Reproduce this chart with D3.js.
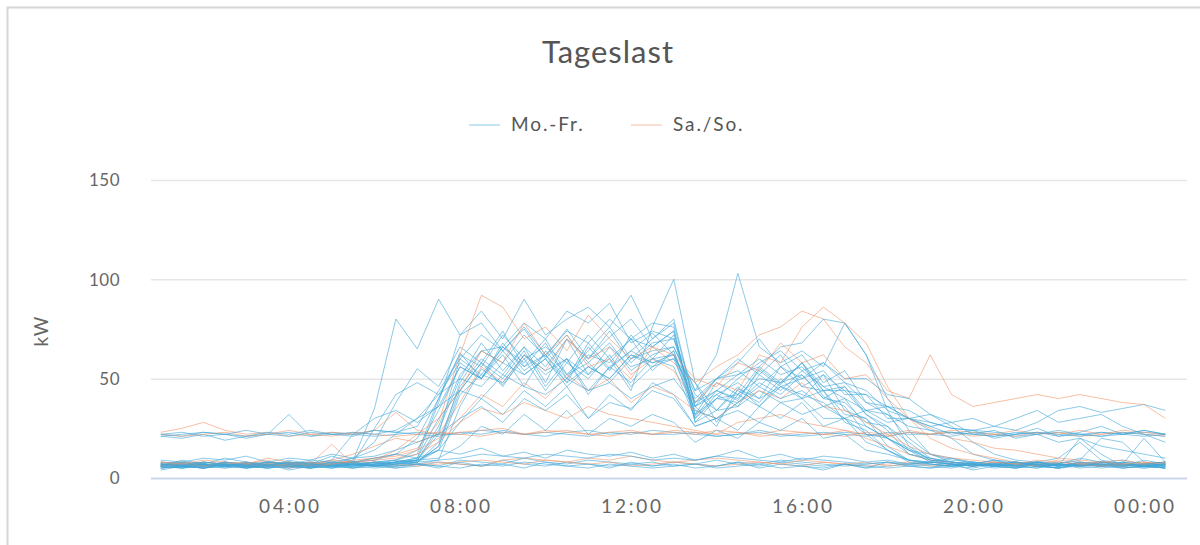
<!DOCTYPE html>
<html>
<head>
<meta charset="utf-8">
<script src="https://cdn.jsdelivr.net/npm/d3@7"></script>
<style>
  html, body { margin: 0; padding: 0; background: #fff; }
  svg text { font-family: Lato, "Open Sans", sans-serif; }
</style>
</head>
<body>
<div id="chart"></div>
<script>
// half-hour steps from 01:00 to 00:30 (next day), in hours
const times = d3.range(48).map(i => 1 + i * 0.5);
const xTicks = [4, 8, 12, 16, 20, 24];
const yTicks = [0, 50, 100, 150];
const seriesNames = ["Mo.-Fr.", "Sa./So."];

// Mo.-Fr. daily load curves, kW
const weekday = [
  [6,7,5,6,8,6,5,7,6,6,7,5, 6,8,7,6,9,7,6,8,7,6,7,8, 6,7,9,7,6,8,7,6,7,5,6,7, 6,5,7,6,8,6,5,7,6,8,6,7],
  [7,5,6,8,6,7,6,5,7,8,6,6, 7,6,9,8,7,10,8,7,9,8,7,6, 8,7,6,8,7,9,8,7,6,7,8,6, 7,6,5,7,6,5,7,6,5,6,7,5],
  [22,21,23,22,20,22,23,21,22,22,24,23, 22,21,23,22,24,22,23,22,21,23,22,24, 23,22,21,22,23,21,22,23,22,21,23,22, 22,21,23,22,21,22,23,22,21,22,23,22],
  [21,20,22,19,21,22,32,21,23,22,21,22, 23,22,22,24,23,22,21,23,24,22,23,22, 22,23,21,22,24,22,21,22,23,22,21,23, 22,23,22,21,22,23,21,22,23,22,21,22],
  [6,7,6,5,7,6,7,6,5,7,8,7, 9,26,52,64,58,72,61,75,60,71,80,66, 74,31,44,39,55,47,58,41,36,22,14,8, 7,6,7,6,5,7,6,8,6,7,6,5],
  [5,6,7,6,6,8,6,5,7,6,7,9, 12,40,63,50,66,58,70,52,64,76,60,70, 78,36,26,45,40,56,46,52,34,30,16,9, 8,7,6,7,8,6,5,7,6,6,7,6],
  [7,6,8,7,6,5,7,8,6,9,35,80, 65,90,72,78,64,75,60,72,58,68,54,62, 66,44,50,60,52,62,46,44,32,30,20,15, 9,8,7,6,7,8,6,7,6,5,6,7],
  [6,8,7,6,7,6,8,7,7,10,18,38, 55,46,66,58,74,56,62,50,68,55,64,73, 62,30,40,38,48,42,52,40,46,32,24,12, 10,8,6,8,7,6,7,5,6,7,6,6],
  [7,6,5,7,6,6,7,5,6,7,6,8, 7,9,36,55,47,60,44,58,50,62,46,56, 60,48,28,42,36,46,40,52,44,42,30,30, 24,20,12,9,7,6,7,6,8,7,6,7],
  [6,5,7,6,8,7,6,6,7,5,7,8, 10,38,72,84,70,90,72,80,86,76,92,70, 80,36,50,58,70,56,62,48,54,38,32,20, 12,9,8,6,7,6,5,7,6,7,6,5],
  [8,7,6,7,5,6,7,8,6,7,6,8, 9,24,50,68,54,66,48,70,52,60,44,76, 100,48,34,44,38,50,40,44,28,24,14,9, 7,6,8,7,6,7,6,8,7,6,7,6],
  [6,7,6,8,7,6,5,7,6,8,7,6, 8,18,46,60,52,66,56,70,60,74,58,68, 70,44,62,103,66,58,64,56,78,62,40,24, 12,8,7,6,7,8,6,7,6,7,5,6],
  [5,6,7,6,5,7,6,5,6,7,6,7, 8,14,28,40,32,44,36,46,30,42,34,48, 42,26,30,24,36,30,38,26,30,22,20,14, 12,10,8,7,6,5,7,6,8,7,6,5],
  [22,23,21,22,24,22,21,23,22,21,24,23, 26,44,60,52,66,56,68,50,62,58,70,54, 64,32,48,42,56,48,58,44,46,34,32,26, 24,23,22,21,23,22,24,22,21,23,22,21],
  [6,7,5,6,7,6,7,8,6,5,7,8, 10,30,44,58,50,64,46,60,42,56,48,60, 56,30,42,36,52,44,54,46,48,38,36,30, 28,25,24,26,24,28,34,36,33,35,37,34],
  [7,6,7,5,6,7,8,6,7,6,8,9, 14,34,56,50,68,54,62,48,66,54,72,60, 72,28,40,50,58,64,54,58,48,44,34,30, 26,22,24,20,22,25,21,23,26,22,24,22],
  [6,5,7,6,8,6,7,6,7,8,25,42, 48,42,58,50,62,46,64,52,58,48,60,64, 66,42,34,46,36,48,52,40,38,28,26,18, 10,7,6,7,8,6,5,7,6,8,7,6],
  [7,6,5,7,6,7,6,5,8,7,6,7, 8,16,44,58,46,62,52,60,44,56,64,58, 62,38,44,52,56,66,68,80,78,62,34,16, 9,7,6,7,6,8,7,6,7,5,6,7],
  [6,7,6,7,5,6,8,7,6,7,7,8, 9,22,60,72,64,76,62,74,68,80,70,78, 76,28,34,36,44,38,40,30,30,18,14,9, 8,7,6,7,8,6,7,9,20,18,8,6],
  [5,6,7,6,7,5,6,7,6,5,6,8, 9,10,16,26,22,32,24,34,22,30,26,32, 28,18,24,20,28,24,30,20,22,14,12,9, 7,6,7,6,5,7,6,7,6,7,6,7],
  [21,22,23,22,21,23,22,24,22,23,22,24, 30,36,56,50,64,52,60,46,56,50,62,56, 64,36,44,40,54,46,50,54,42,42,36,34, 28,25,24,23,22,23,22,21,23,22,24,22],
  [7,6,7,6,5,7,6,6,7,8,9,12, 20,40,62,56,72,60,66,58,72,60,70,66, 74,32,40,42,50,48,58,46,40,26,20,12, 9,8,7,6,7,8,10,18,9,7,20,8],
  [6,5,6,7,6,8,7,6,7,6,8,7, 8,16,48,64,66,78,70,84,78,88,68,74, 70,38,50,52,60,52,56,44,44,32,26,14, 8,7,6,7,5,6,7,6,7,8,6,7],
  [7,8,6,7,6,5,7,6,8,7,6,7, 9,14,42,52,48,62,54,60,52,66,56,60, 62,40,50,54,46,56,50,58,50,50,42,40, 32,26,18,12,9,8,6,7,8,7,6,7],
  [5,6,5,7,6,5,6,7,5,6,5,6, 7,6,5,7,6,8,7,6,5,7,6,5, 6,7,5,6,7,5,6,5,7,6,5,6, 5,6,7,5,6,7,5,6,7,5,6,5],
  [8,7,8,6,7,8,7,6,8,7,8,9, 8,9,10,12,11,10,12,11,10,12,11,9, 10,9,11,10,9,8,10,9,8,7,8,7, 8,7,8,6,8,7,8,7,8,9,7,8],
  [9,8,10,9,11,8,10,9,12,10,11,14, 18,22,30,36,28,40,34,42,30,38,35,44, 40,26,30,34,28,38,32,36,30,34,28,30, 26,28,22,24,20,22,18,20,16,14,12,10],
  [7,6,8,7,6,8,7,9,8,10,14,22, 30,42,50,46,58,52,60,48,56,50,62,58, 60,34,30,38,46,40,44,36,40,34,36,30, 32,28,30,26,30,34,28,30,32,26,22,18],
  [6,7,6,8,7,6,8,7,9,22,30,34, 28,36,44,40,52,46,42,50,44,48,40,46, 50,36,42,48,40,46,42,38,30,26,20,14, 10,8,7,9,8,7,6,8,7,6,7,8],
  [6,9,7,10,8,6,9,7,11,8,10,12, 10,14,12,15,11,13,10,14,12,11,13,10, 12,9,11,14,10,12,9,11,10,8,9,7, 8,10,7,9,6,8,7,10,8,6,9,7],
  [4,6,5,8,5,7,4,6,5,8,6,5, 7,5,8,6,7,5,8,6,7,5,8,6, 7,5,6,8,5,7,6,4,7,5,8,6, 5,7,4,6,5,8,6,20,12,6,5,7]
];

// Sa./So. daily load curves, kW
const weekend = [
  [7,6,8,7,6,7,5,6,7,8,6,7, 6,7,8,9,8,7,9,8,7,8,6,7, 8,7,6,7,8,7,6,8,7,6,7,8, 6,7,6,8,7,6,7,6,8,7,6,7],
  [6,8,7,6,7,9,6,7,17,7,8,6, 7,8,7,6,9,10,9,8,10,9,11,9, 8,9,10,9,8,7,9,8,7,8,6,7, 8,7,6,7,6,8,7,6,7,6,7,8],
  [23,25,28,24,22,23,21,22,23,22,24,33, 24,22,23,24,25,22,23,24,22,23,24,22, 23,22,24,23,22,24,23,22,21,23,22,24, 22,23,21,22,24,22,23,21,22,24,23,22],
  [22,21,22,23,21,22,24,22,21,23,22,21, 22,23,22,21,23,22,24,23,22,21,23,22, 24,23,22,23,21,22,23,22,24,22,21,23, 22,24,23,22,21,23,22,24,22,23,22,21],
  [8,7,6,7,6,8,7,8,7,9,10,12, 15,28,62,92,86,70,76,64,82,70,60,66, 58,48,56,62,72,76,84,80,66,58,44,40, 62,42,36,38,40,42,40,42,40,38,37,30],
  [6,7,8,7,6,7,8,6,9,12,16,20, 18,22,38,56,48,62,54,70,60,66,52,60, 54,38,48,44,62,58,76,86,78,68,46,30, 20,15,12,10,8,7,9,8,7,6,7,8],
  [7,8,6,7,8,7,6,7,8,8,9,10, 12,18,28,35,32,38,34,30,36,32,30,28, 26,24,22,28,30,32,28,26,24,20,16,12, 9,8,7,8,7,6,8,7,6,7,8,7],
  [6,7,6,8,7,6,7,6,7,8,9,14, 22,30,44,64,58,78,62,72,56,60,50,66, 62,50,46,58,54,68,58,62,50,52,40,30, 25,20,18,15,14,12,10,9,8,7,8,7],
  [8,7,9,8,7,10,8,7,9,8,10,11, 14,20,30,42,36,48,40,52,44,50,38,46, 42,34,30,38,44,40,48,36,34,28,22,16, 12,10,9,8,7,9,8,7,8,9,7,8]
];

const blue = "#3fa6d8", orange = "#f0946a";

const W = 1200, H = 545;
const svg = d3.select("#chart").append("svg")
    .attr("width", W)
    .attr("height", H);

// chart frame
svg.append("rect")
    .attr("x", 7.5).attr("y", 7.5)
    .attr("width", 1300).attr("height", 700)
    .attr("fill", "#fff")
    .attr("stroke", "#d6d6d6")
    .attr("stroke-width", 2);

const x = d3.scaleLinear().domain([0.772, 25.006]).range([151, 1187]);
const y = d3.scaleLinear().domain([0, 150]).range([478, 180]);

// gridlines
svg.append("g").selectAll("line")
    .data(yTicks.filter(d => d > 0))
    .join("line")
    .attr("x1", 151).attr("x2", 1187)
    .attr("y1", d => y(d) + 0.5).attr("y2", d => y(d) + 0.5)
    .attr("stroke", "#e6e6e6")
    .attr("stroke-width", 1.5);

// y labels
svg.append("g").selectAll("text")
    .data(yTicks)
    .join("text")
    .attr("x", 120)
    .attr("y", d => y(d) + 2)
    .attr("text-anchor", "end")
    .attr("dominant-baseline", "middle")
    .attr("fill", "#666")
    .style("font-size", "17px")
    .style("letter-spacing", "0.5px")
    .text(d => d);

svg.append("text")
    .attr("transform", "translate(48,331) rotate(-90)")
    .attr("text-anchor", "middle")
    .attr("fill", "#666")
    .style("font-size", "19px")
    .style("letter-spacing", "1px")
    .text("kW");

// lines
const line = d3.line()
    .x((d, i) => x(times[i]))
    .y(d => y(d));

const all = [];
weekday.forEach(s => all.push({ v: s, c: blue, o: 0.6 }));
weekend.forEach((s, i) => all.splice(Math.min(all.length, 3 + i * 4), 0, { v: s, c: orange, o: 0.6 }));

svg.append("g").selectAll("path")
    .data(all)
    .join("path")
    .attr("d", d => line(d.v))
    .attr("fill", "none")
    .attr("stroke", d => d.c)
    .attr("stroke-opacity", d => d.o)
    .attr("stroke-width", 1)
    .attr("stroke-linejoin", "round");

// x axis line
svg.append("line")
    .attr("x1", 151).attr("x2", 1187)
    .attr("y1", 478.5).attr("y2", 478.5)
    .attr("stroke", "#ccd6eb")
    .attr("stroke-width", 2);

svg.append("g").selectAll("text")
    .data(xTicks)
    .join("text")
    .attr("x", d => x(d) + 1.5)
    .attr("y", 508)
    .attr("text-anchor", "middle")
    .attr("dominant-baseline", "middle")
    .attr("fill", "#666")
    .style("font-size", "19px")
    .style("letter-spacing", "2.8px")
    .text(d => String(d % 24).padStart(2, "0") + ":00");

// title
svg.append("text")
    .attr("x", 608)
    .attr("y", 63)
    .attr("text-anchor", "middle")
    .attr("fill", "#555")
    .style("font-size", "31px")
    .style("letter-spacing", "1px")
    .text("Tageslast");

// legend
const legend = svg.append("g").selectAll("g")
    .data(seriesNames)
    .join("g")
    .attr("transform", (d, i) => `translate(${469 + i * 162},125)`);
legend.append("line")
    .attr("x1", 0).attr("x2", 31)
    .attr("stroke", (d, i) => i ? orange : blue)
    .attr("stroke-opacity", 0.6)
    .attr("stroke-width", 1);
legend.append("text")
    .attr("x", 42)
    .attr("y", 1)
    .attr("dominant-baseline", "middle")
    .attr("fill", "#555")
    .style("font-size", "19px")
    .style("letter-spacing", "1.9px")
    .text(d => d);
</script>
</body>
</html>
